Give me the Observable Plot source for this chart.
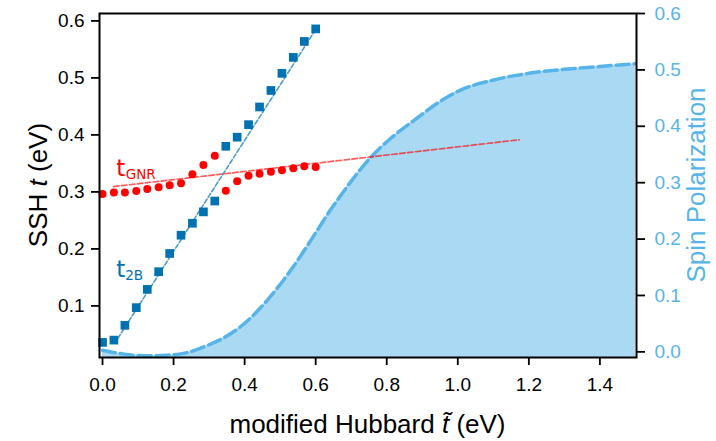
<!DOCTYPE html>
<html><head><meta charset="utf-8">
<script src="https://cdn.jsdelivr.net/npm/d3@7"></script>
<script src="https://cdn.jsdelivr.net/npm/@observablehq/plot@0.6"></script>
<style>
body{margin:0;background:#fff;}
#chart svg{font-family:"Liberation Sans",Arial,sans-serif;}
</style>
</head><body><div id="chart"></div>
<script>
// ---- data ----
const hubbardX = [0.000,0.032,0.063,0.095,0.126,0.158,0.189,0.221,0.253,0.284,0.316,0.347,0.379,0.411,0.442,0.474,0.505,0.537,0.568,0.600];
const t2B  = [0.036,0.040,0.066,0.097,0.129,0.160,0.192,0.224,0.245,0.265,0.284,0.380,0.396,0.418,0.449,0.478,0.508,0.536,0.564,0.586];
const tGNR = [0.2965,0.2988,0.2988,0.3014,0.3050,0.3080,0.3115,0.3152,0.3310,0.3472,0.3633,0.3020,0.3187,0.3282,0.3317,0.3352,0.3380,0.3415,0.3451,0.3437];
const fitGNRx = [0.031, 1.173];
const fitGNRy = [0.3094, 0.3915];
const fit2Bx = [0.043, 0.598];
const fit2By = [0.043, 0.583];
const spinX = [0.0,0.06,0.13,0.18,0.24,0.294,0.35,0.397,0.463,0.529,0.604,0.642,0.669,0.698,0.754,0.81,0.876,0.95,1.0,1.1,1.2,1.3,1.4,1.5];
const spinV = [0.003,-0.004,-0.007,-0.006,-0.001,0.011,0.028,0.049,0.091,0.144,0.215,0.252,0.276,0.301,0.344,0.378,0.410,0.444,0.462,0.482,0.494,0.501,0.506,0.511];
const xTicks = [0,0.2,0.4,0.6,0.8,1.0,1.2,1.4];
const yTicksLeft = [0.1,0.2,0.3,0.4,0.5,0.6];
const yTicksRight = [0.0,0.1,0.2,0.3,0.4,0.5,0.6];

// ---- scales ----
const xDom = [-0.0085, 1.503];
const yL = [0.0095, 0.613];
const yR = [-0.01, 0.6];
const toLeft = v => yL[0] + (v - yR[0]) * (yL[1]-yL[0]) / (yR[1]-yR[0]);
const toRight = u => yR[0] + (u - yL[0]) * (yR[1]-yR[0]) / (yL[1]-yL[0]);

const blue = "#0072b2", sky = "#56b4e9", red = "#ff0000";

const b2 = hubbardX.map((x,i)=>({x, y:t2B[i]}));
const gnr = hubbardX.map((x,i)=>({x, y:tGNR[i]}));
const spin = spinX.map((x,i)=>({x, y:toLeft(spinV[i])}));
const fitG = fitGNRx.map((x,i)=>({x, y:fitGNRy[i]}));
const fitB = fit2Bx.map((x,i)=>({x, y:fit2By[i]}));

const W=716, H=441, mL=99, mR=80, mT=13, mB=84;
const annFont = "DejaVu Sans, sans-serif";
const plot = Plot.plot({
  width: W, height: H,
  marginLeft: mL, marginRight: mR, marginTop: mT, marginBottom: mB,
  x: {domain: xDom},
  y: {domain: yL},
  style: {fontFamily: "Liberation Sans, Arial, sans-serif", fontSize: "18px", background: "white", overflow: "visible"},
  marks: [
    Plot.areaY(spin, {x:"x", y1: yL[0], y2:"y", fill: sky, fillOpacity: 0.5, curve: "monotone-x"}),
    Plot.line(spin, {x:"x", y:"y", stroke: sky, strokeWidth: 3.5, strokeDasharray: "13,5", curve: "monotone-x"}),
    Plot.line(fitG, {x:"x", y:"y", stroke: red, strokeOpacity: 0.65, strokeWidth: 1.7, strokeDasharray: "5.5,2.5"}),
    Plot.line(fitB, {x:"x", y:"y", stroke: blue, strokeOpacity: 0.7, strokeWidth: 1.6, strokeDasharray: "4.5,2.2"}),
    Plot.dot(gnr, {x:"x", y:"y", r: 4, fill: red}),
    Plot.dot(b2, {x:"x", y:"y", symbol: "square", r: 4.9, fill: blue}),
    Plot.text(["t"], {x: 0.0386, y: 0.3287, text: d=>d, fill: red, fontSize: 23, fontFamily: annFont, textAnchor: "start", lineAnchor: "bottom"}),
    Plot.text(["GNR"], {x: 0.0386, y: 0.3287, text: d=>d, fill: red, fontSize: 13.5, fontFamily: annFont, textAnchor: "start", lineAnchor: "bottom", dx: 9.5, dy: 3.5}),
    Plot.text(["t"], {x: 0.0386, y: 0.1511, text: d=>d, fill: blue, fontSize: 23, fontFamily: annFont, textAnchor: "start", lineAnchor: "bottom"}),
    Plot.text(["2B"], {x: 0.0386, y: 0.1511, text: d=>d, fill: blue, fontSize: 13.5, fontFamily: annFont, textAnchor: "start", lineAnchor: "bottom", dx: 9, dy: 3.5}),
    Plot.axisX(xTicks, {anchor: "bottom", tickSize: 8, tickPadding: 12, strokeWidth: 1.8, stroke: "black", fill: "black", tickFormat: d=>d.toFixed(1), label: null, fontSize: 19}),
    Plot.axisY(yTicksLeft, {anchor: "left", tickSize: 8, tickPadding: 7, strokeWidth: 1.8, stroke: "black", fill: "black", tickFormat: d=>d.toFixed(1), label: null, fontSize: 19}),
    Plot.axisY(yTicksRight.map(toLeft), {anchor: "right", tickSize: 8, tickPadding: 10, strokeWidth: 1.8, stroke: "black", fill: sky, tickFormat: u=>(Math.round(toRight(u)*10)/10).toFixed(1), label: null, fontSize: 19}),
    Plot.frame({stroke: "black", strokeWidth: 2})
  ]
});
document.getElementById("chart").appendChild(plot);

// axis titles with mixed styling
const svg = d3.select(plot);
const f = "Liberation Sans, Arial, sans-serif";
const xl = svg.append("text").attr("x", (mL + W - mR)/2).attr("y", 433)
  .attr("text-anchor","middle").attr("font-size",26).attr("font-family",f).attr("fill","black");
xl.append("tspan").text("modified Hubbard ");
xl.append("tspan").attr("font-style","italic").text("t\u0303");
xl.append("tspan").text(" (eV)");
const yl = svg.append("text").attr("transform", `translate(47,${(mT + H - mB)/2}) rotate(-90)`)
  .attr("text-anchor","middle").attr("font-size",26).attr("font-family",f).attr("fill","black");
yl.append("tspan").text("SSH ");
yl.append("tspan").attr("font-style","italic").text("t");
yl.append("tspan").text(" (eV)");
svg.append("text").attr("transform", `translate(705,${(mT + H - mB)/2}) rotate(-90)`)
  .attr("text-anchor","middle").attr("font-size",26).attr("font-family",f).attr("fill",sky)
  .text("Spin Polarization");
</script>
</body></html>
